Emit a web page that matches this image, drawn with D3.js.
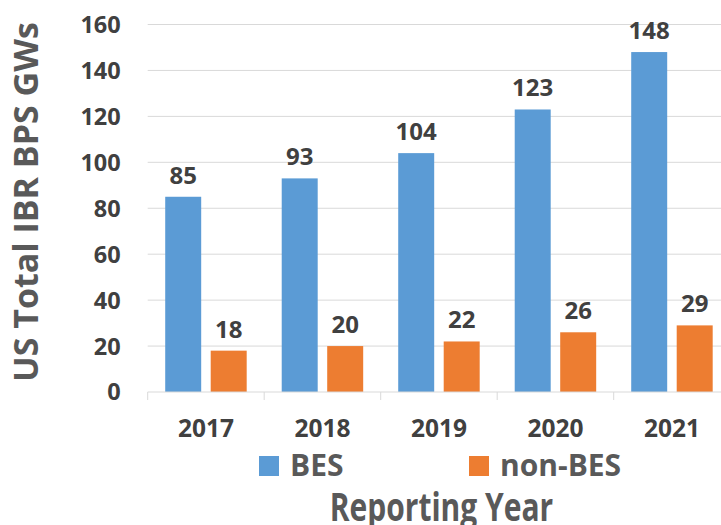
<!DOCTYPE html>
<html lang="en">
<head>
  <meta charset="UTF-8" />
  <title>US Total IBR BPS GWs</title>
  <script src="https://d3js.org/d3.v7.min.js"></script>
  <style>
    body {
      margin: 0;
      padding: 0;
      background: #fff;
      font-family: "Open Sans", Lato, sans-serif;
    }
    svg text {
      font-weight: 700;
      fill: #404040;
    }
    svg text.title {
      fill: #595959;
    }
    .grid line {
      stroke: #d9d9d9;
      stroke-width: 1;
    }
  </style>
</head>
<body>
  <script>
    // data
    var years = ["2017", "2018", "2019", "2020", "2021"];
    var bes = [85, 93, 104, 123, 148];
    var nonBes = [18, 20, 22, 26, 29];
    var seriesNames = ["BES", "non-BES"];
    var colors = ["#5b9bd5", "#ed7d31"];
    var yTicks = [0, 20, 40, 60, 80, 100, 120, 140, 160];

    var W = 721, H = 525;
    var margin = { top: 24.5, left: 147.7 };
    var width = 582.5; // plot runs off the right edge in the original
    var height = 367.5;

    var svg = d3.select("body").append("svg")
      .attr("width", W)
      .attr("height", H);

    var g = svg.append("g")
      .attr("transform", "translate(" + margin.left + "," + margin.top + ")");

    var x = d3.scaleBand().domain(years).range([0, width]).padding(0);
    var xSub = d3.scaleBand().domain(seriesNames).range([0, x.bandwidth()])
      .paddingInner(0.209).paddingOuter(0.385);
    var y = d3.scaleLinear().domain([0, 160]).range([height, 0]);

    // gridlines
    g.append("g").attr("class", "grid")
      .selectAll("line")
      .data(yTicks.slice(1))
      .enter().append("line")
      .attr("x1", 0).attr("x2", width)
      .attr("y1", function (d) { return y(d); })
      .attr("y2", function (d) { return y(d); });

    // y tick labels
    g.append("g")
      .selectAll("text")
      .data(yTicks)
      .enter().append("text")
      .attr("x", -27)
      .attr("y", function (d) { return y(d); })
      .attr("dy", "0.36em")
      .attr("text-anchor", "end")
      .style("font-size", "23.5px")
      .text(function (d) { return d; });

    // bars
    var rows = years.map(function (yr, i) {
      return { year: yr, vals: [bes[i], nonBes[i]] };
    });

    var grp = g.selectAll(".yr")
      .data(rows)
      .enter().append("g")
      .attr("class", "yr")
      .attr("transform", function (d) { return "translate(" + x(d.year) + ",0)"; });

    grp.selectAll("rect")
      .data(function (d) { return d.vals.map(function (v, j) { return { key: seriesNames[j], v: v, j: j }; }); })
      .enter().append("rect")
      .attr("x", function (d) { return xSub(d.key); })
      .attr("y", function (d) { return y(d.v); })
      .attr("width", xSub.bandwidth())
      .attr("height", function (d) { return height - y(d.v); })
      .attr("fill", function (d) { return colors[d.j]; });

    grp.selectAll("text.lbl")
      .data(function (d) { return d.vals.map(function (v, j) { return { key: seriesNames[j], v: v }; }); })
      .enter().append("text")
      .attr("class", "lbl")
      .attr("x", function (d) { return xSub(d.key) + xSub.bandwidth() / 2; })
      .attr("y", function (d) { return y(d.v) - 13; })
      .attr("text-anchor", "middle")
      .style("font-size", "24px")
      .text(function (d) { return d.v; });

    // x axis line + ticks
    var xAxis = g.append("g").attr("transform", "translate(0," + height + ")");
    xAxis.append("line")
      .attr("x1", 0).attr("x2", width)
      .attr("stroke", "#d9d9d9");
    xAxis.selectAll("line.tk")
      .data(years.concat(["end"]))
      .enter().append("line")
      .attr("class", "tk")
      .attr("x1", function (d, i) { return i * x.step(); })
      .attr("x2", function (d, i) { return i * x.step(); })
      .attr("y1", 0).attr("y2", 8)
      .attr("stroke", "#d9d9d9");
    xAxis.selectAll("text")
      .data(years)
      .enter().append("text")
      .attr("x", function (d) { return x(d) + x.bandwidth() / 2; })
      .attr("y", 44.5)
      .attr("text-anchor", "middle")
      .style("font-size", "24.5px")
      .text(function (d) { return d; });

    // legend
    var legendX = [259, 469];
    var leg = svg.append("g");
    seriesNames.forEach(function (name, i) {
      leg.append("rect")
        .attr("x", legendX[i]).attr("y", 456)
        .attr("width", 20).attr("height", 20)
        .attr("fill", colors[i]);
      leg.append("text")
        .attr("class", "title")
        .attr("x", legendX[i] + 31).attr("y", 476)
        .style("font-size", "30px")
        .text(name);
    });

    // axis titles (x title is a bit taller than wide in the original, and cut at the bottom)
    svg.append("text")
      .attr("class", "title")
      .attr("transform", "translate(441.5,521) scale(1,1.3)")
      .attr("text-anchor", "middle")
      .style("font-size", "30px")
      .text("Reporting Year");

    svg.append("text")
      .attr("class", "title")
      .attr("transform", "translate(37.5,202) rotate(-90)")
      .attr("text-anchor", "middle")
      .style("font-size", "34px")
      .text("US Total IBR BPS GWs");
  </script>
</body>
</html>
